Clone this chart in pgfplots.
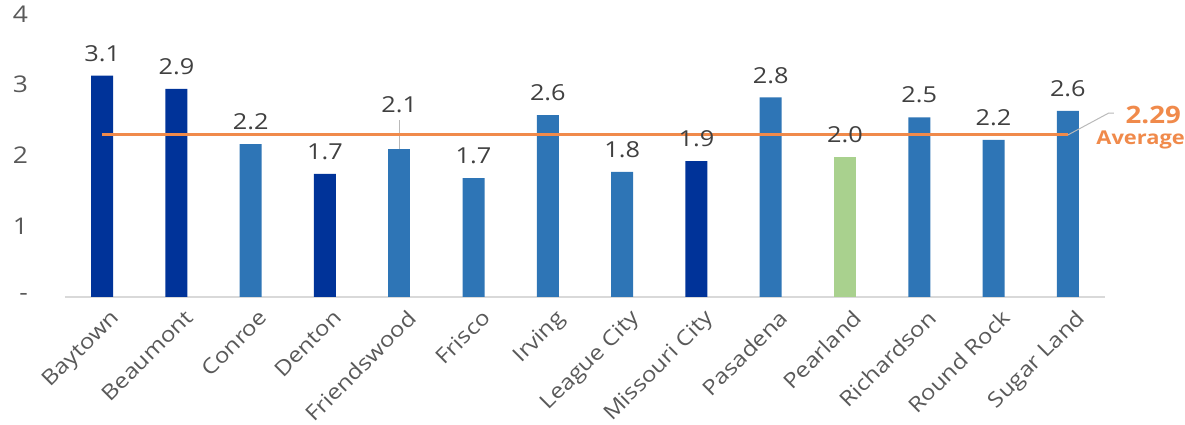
\documentclass[border=0pt]{standalone}
\usepackage{pgfplots}
\pgfplotsset{compat=1.18}
\usepackage{fontspec}
\setmainfont{Open Sans}[FakeStretch=1.15]
\definecolor{darkb}{HTML}{003399}
\definecolor{midb}{HTML}{2E75B6}
\definecolor{grn}{HTML}{A9D18E}
\definecolor{avg}{HTML}{F08A4B}
\definecolor{lab}{HTML}{404040}
\definecolor{tick}{HTML}{595959}
\begin{document}
\begin{tikzpicture}
\begin{axis}[name=ax, scale only axis, width=520pt, height=141.5pt,
  xmin=-0.5, xmax=13.5, ymin=0, ymax=4,
  ybar, bar width=11pt, bar shift=0pt,
  clip=false,
  separate axis lines,
  axis x line*=bottom, axis y line*=left,
  y axis line style={draw=none},
  x axis line style={draw=gray!30, line width=0.6pt},
  major tick length=0pt,
  xtick={0,...,13},
  xticklabels={Baytown,Beaumont,Conroe,Denton,Friendswood,Frisco,Irving,League City,Missouri City,Pasadena,Pearland,Richardson,Round Rock,Sugar Land},
  xticklabel style={rotate=45, anchor=north east, text=tick, font=\fontsize{10.5}{12}\selectfont, xshift=2pt, yshift=-3pt},
  ytick={0,1,2,3,4},
  yticklabels={-,1,2,3,4},
  yticklabel style={text=tick, font=\fontsize{11.5}{13}\selectfont, xshift=-15pt},
  /pgf/number format/assume math mode=true,
  /pgf/number format/fixed, /pgf/number format/fixed zerofill, /pgf/number format/precision=1,
  every node near coord/.append style={font=\fontsize{11}{13}\selectfont, text=lab, yshift=3.5pt},
]
\addplot[fill=darkb, draw=none, nodes near coords] coordinates {(0,3.13) (1,2.94) (3,1.74) (8,1.92)};
\addplot[fill=midb, draw=none, nodes near coords] coordinates {(2,2.16) (5,1.68) (6,2.57) (7,1.77) (9,2.82) (11,2.54) (12,2.22) (13,2.63)};
\addplot[fill=midb, draw=none, nodes near coords, every node near coord/.append style={yshift=11pt}] coordinates {(4,2.09)};
\addplot[fill=grn, draw=none, nodes near coords] coordinates {(10,1.98)};
\draw[gray!55, line width=0.5pt] (axis cs:4,2.09) -- (axis cs:4,2.5);
\addplot[sharp plot, no markers, draw=avg, line width=1.5pt] coordinates {(0,2.29) (13,2.29)};
\draw[gray!55, line width=0.5pt] (axis cs:13,2.29) -- (axis cs:13.55,2.6) -- (axis cs:13.62,2.6);
\node[text=avg, font=\bfseries\fontsize{12}{14}\selectfont] at (axis cs:14.15,2.57) {2.29};
\node[text=avg, font=\bfseries\fontsize{9.5}{11}\selectfont] at (axis cs:13.98,2.22) {Average};
\end{axis}
\pgfresetboundingbox
\path[use as bounding box] ([shift={(-32.5pt,-64pt)}]ax.south west) rectangle ([shift={(40pt,7pt)}]ax.north east);
\end{tikzpicture}
\end{document}
